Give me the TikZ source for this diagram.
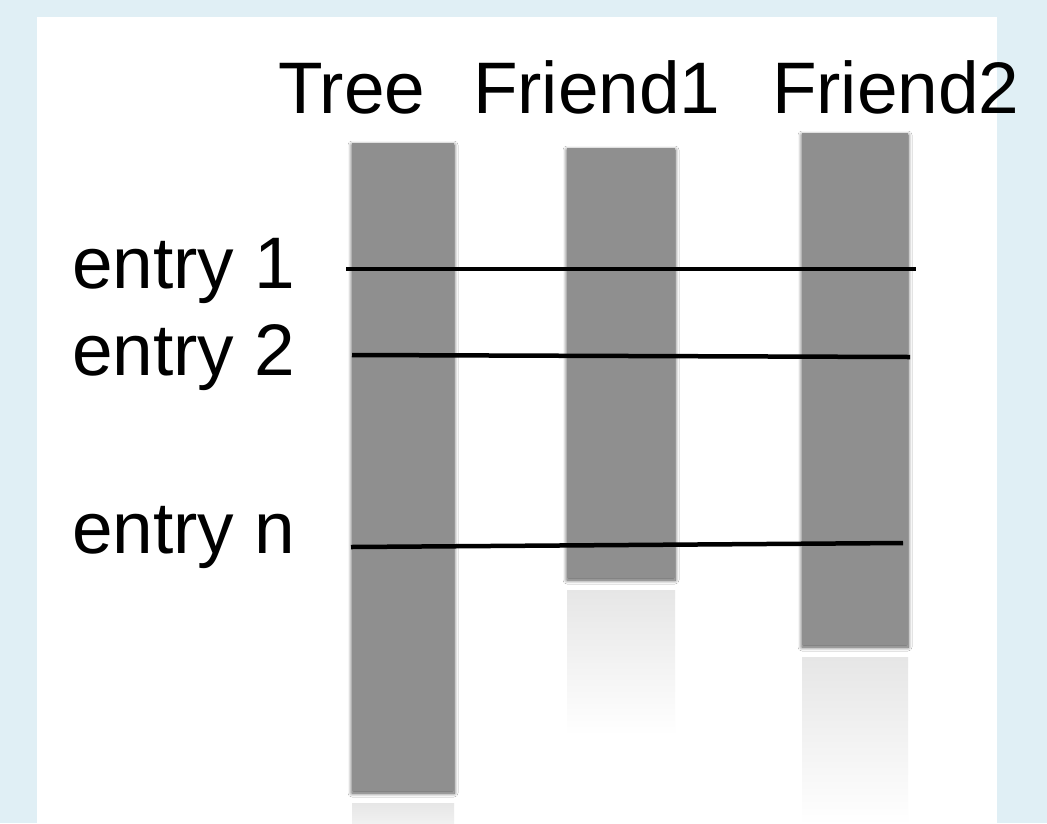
\documentclass[tikz,border=0pt]{standalone}
\usepackage{fontspec}
\setmainfont{Liberation Sans}
\usetikzlibrary{shadows.blur}
\definecolor{bgblue}{HTML}{E0EFF5}
\definecolor{bargray}{HTML}{8F8F8F}
\definecolor{reflgray}{HTML}{E6E6E6}
\tikzset{
  bar/.style={fill=bargray, draw=none, inner sep=0pt, outer sep=0pt, anchor=north west,
    blur shadow={shadow xshift=0pt, shadow yshift=-2pt, shadow blur radius=4pt, shadow opacity=70, shadow blur steps=8}},
  refl/.style={draw=none, top color=reflgray, bottom color=white},
  lbl/.style={inner sep=0pt, outer sep=0pt, anchor=base west, font=\fontsize{73}{73}\selectfont},
  entryline/.style={line width=4.5pt, draw=black}
}
\begin{document}
\begin{tikzpicture}[x=1pt,y=-1pt]
\useasboundingbox (0,0) rectangle (1047,823);
\fill[bgblue] (0,0) rectangle (1047,823);
\fill[white] (37,17) rectangle (997,823);
% reflections
\shade[refl] (352,803) rectangle (454,850);
\shade[refl] (567,590) rectangle (675,735);
\shade[refl] (802,657) rectangle (908,825);
\fill[bgblue] (997,17) rectangle (1047,823);
% bars
\node[bar, minimum width=102pt, minimum height=648pt] (tree) at (352,143) {};
\node[bar, minimum width=108pt, minimum height=430pt] (f1) at (567,148) {};
\node[bar, minimum width=106pt, minimum height=512pt] (f2) at (802,133) {};
% headers
\node[lbl] (htree) at (278,113) {Tree};
\node[lbl] (hf1) at (473,113) {Friend1};
\node[lbl] (hf2) at (772,113) {Friend2};
% entry labels
\node[lbl] (e1) at (72,288) {entry 1};
\node[lbl] (e2) at (72,375) {entry 2};
\node[lbl] (en) at (72,553) {entry n};
% lines
\coordinate (l1a) at (346,269);
\coordinate (l1b) at (916,269);
\coordinate (l2a) at (352,355);
\coordinate (l2b) at (910,357);
\coordinate (lna) at (351,547);
\coordinate (lnb) at (903,543);
\draw[entryline] (l1a) -- (l1b);
\draw[entryline] (l2a) -- (l2b);
\draw[entryline] (lna) -- (lnb);
\end{tikzpicture}
\end{document}
